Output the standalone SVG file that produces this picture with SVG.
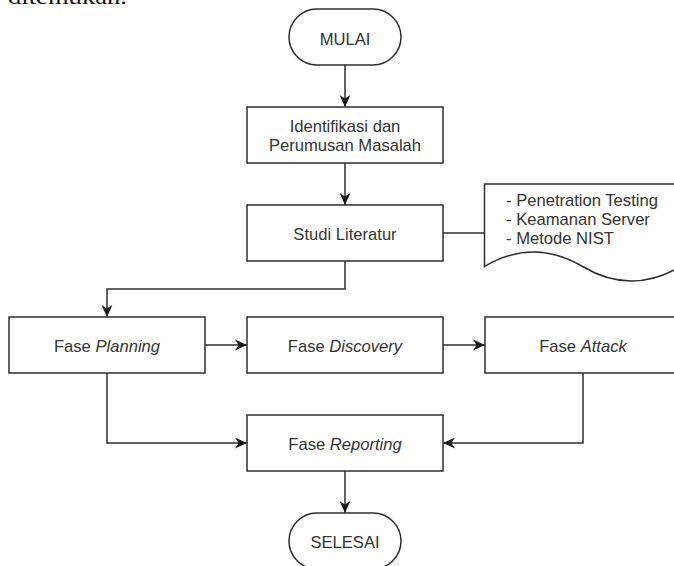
<svg xmlns="http://www.w3.org/2000/svg" width="674" height="566" viewBox="0 0 674 566">
  <defs>
    <style>
      .shape { fill: #ffffff; stroke: #2e2e2e; stroke-width: 1.5; }
      .edge { fill: none; stroke: #2e2e2e; stroke-width: 1.5; }
      .lbl { font-family: "Liberation Sans", Arial, sans-serif; font-size: 16.6px; fill: #333333; text-anchor: middle; }
      .doc { font-family: "Liberation Sans", Arial, sans-serif; font-size: 16.6px; fill: #333333; }
      .it { font-style: italic; }
    </style>
    <marker id="arrow" viewBox="0 0 10 10" markerUnits="userSpaceOnUse" markerWidth="12" markerHeight="12" refX="10" refY="5" orient="auto">
      <path d="M0,0.5 L10,5 L0,9.5 L3,5 Z" fill="#1a1a1a"/>
    </marker>
  </defs>
  <rect x="0" y="0" width="674" height="566" fill="#ffffff"/>

  <text x="8" y="3.5" font-family="Liberation Serif, serif" font-size="21" textLength="119" lengthAdjust="spacingAndGlyphs" fill="#111">ditemukan.</text>

  <g id="connectors">
    <path class="edge" d="M345,65 V107" marker-end="url(#arrow)"/>
    <path class="edge" d="M345,163 V205" marker-end="url(#arrow)"/>
    <path class="edge" d="M443,233 H484.5"/>
    <path class="edge" d="M345,261 V289 H107 V317" marker-end="url(#arrow)"/>
    <path class="edge" d="M205,345 H247" marker-end="url(#arrow)"/>
    <path class="edge" d="M443,345 H485" marker-end="url(#arrow)"/>
    <path class="edge" d="M107,373 V443 H247" marker-end="url(#arrow)"/>
    <path class="edge" d="M583,373 V443 H443" marker-end="url(#arrow)"/>
    <path class="edge" d="M345,471 V513" marker-end="url(#arrow)"/>
  </g>

  <g id="mulai">
    <rect class="shape" x="289" y="9" width="112" height="56" rx="28" ry="28"/>
    <text class="lbl" x="345" y="44.5">MULAI</text>
  </g>

  <g id="identifikasi">
    <rect class="shape" x="247" y="107" width="196" height="56"/>
    <text class="lbl" x="345" y="131.5">Identifikasi dan</text>
    <text class="lbl" x="345" y="151">Perumusan Masalah</text>
  </g>

  <g id="studi">
    <rect class="shape" x="247" y="205" width="196" height="56"/>
    <text class="lbl" x="345" y="240">Studi Literatur</text>
  </g>

  <g id="dokumen">
    <path class="shape" d="M484.5,184 H680.5 V266.5 Q631.5,295.5 582.5,266.5 Q533.5,237.5 484.5,266.5 Z"/>
    <text class="doc" x="506" y="206">- Penetration Testing</text>
    <text class="doc" x="506" y="225">- Keamanan Server</text>
    <text class="doc" x="506" y="244">- Metode NIST</text>
  </g>

  <g id="planning">
    <rect class="shape" x="9" y="317" width="196" height="56"/>
    <text class="lbl" x="107" y="352">Fase <tspan class="it">Planning</tspan></text>
  </g>

  <g id="discovery">
    <rect class="shape" x="247" y="317" width="196" height="56"/>
    <text class="lbl" x="345" y="352">Fase <tspan class="it">Discovery</tspan></text>
  </g>

  <g id="attack">
    <rect class="shape" x="485" y="317" width="196" height="56"/>
    <text class="lbl" x="583" y="352">Fase <tspan class="it">Attack</tspan></text>
  </g>

  <g id="reporting">
    <rect class="shape" x="247" y="415" width="196" height="56"/>
    <text class="lbl" x="345" y="450">Fase <tspan class="it">Reporting</tspan></text>
  </g>

  <g id="selesai">
    <rect class="shape" x="289" y="513" width="112" height="56" rx="28" ry="28"/>
    <text class="lbl" x="345" y="548">SELESAI</text>
  </g>
</svg>
